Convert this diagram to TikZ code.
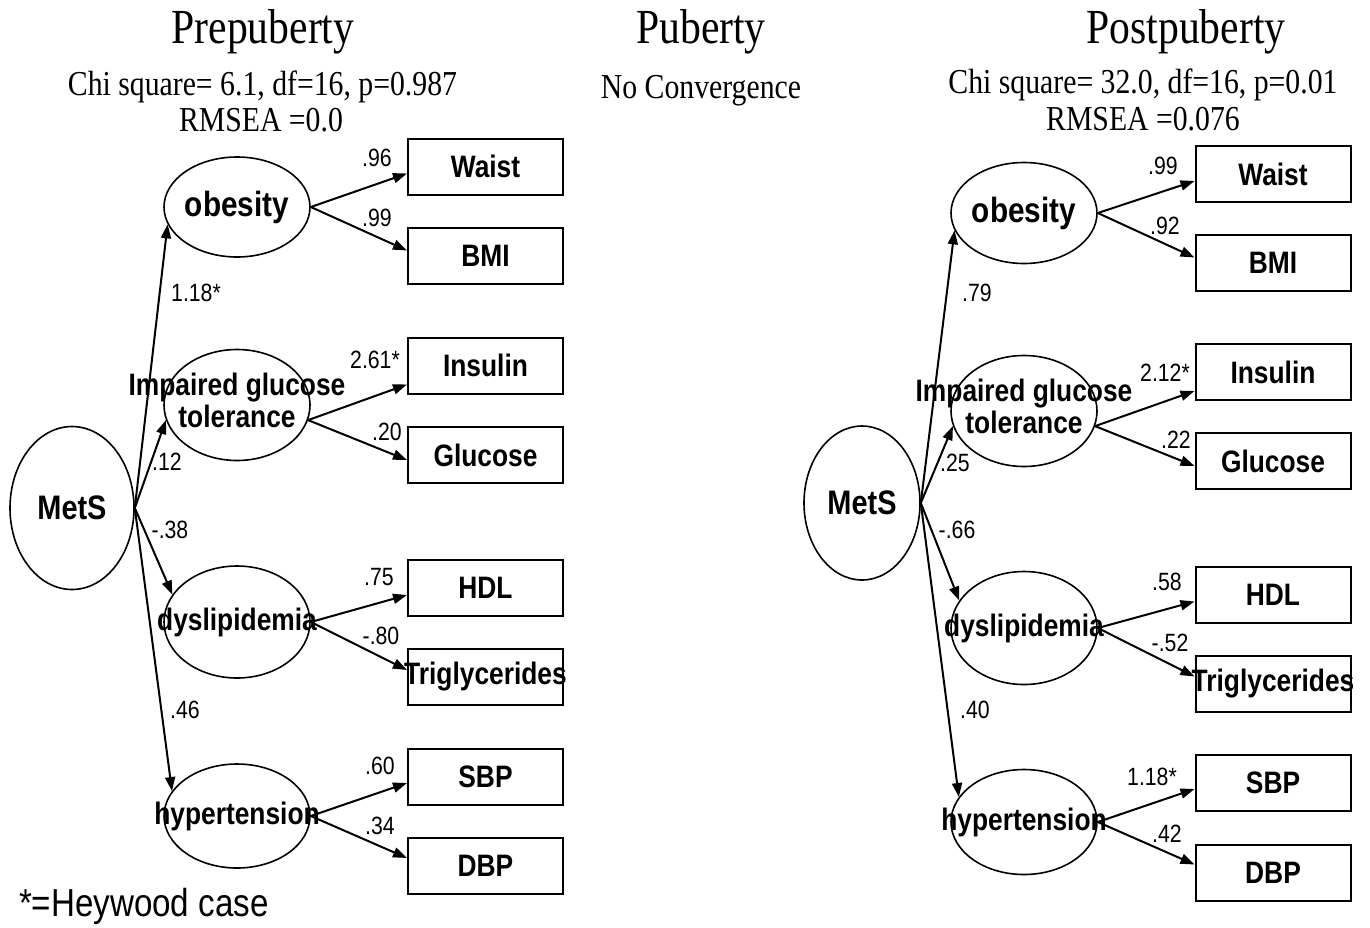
\documentclass[tikz,border=0pt]{standalone}
\usepackage{fontspec}
\setmainfont{Liberation Serif}[FakeStretch=0.85]
\setsansfont{Liberation Sans}[FakeStretch=0.85]
\usetikzlibrary{arrows.meta,shapes.geometric}

\begin{document}
\begin{tikzpicture}[
                    x=0.5pt, y=-0.5pt,
                    latent/.style={
                        ellipse,
                        draw=black,
                        line width=0.8pt,
                        inner sep=0pt,
                        font=\sffamily\bfseries\fontsize{15.5}{16}\selectfont
                    },
                    observed/.style={
                        rectangle,
                        draw=black,
                        line width=1pt,
                        inner sep=0pt,
                        minimum width=77.5pt,
                        minimum height=28pt,
                        font=\sffamily\bfseries\fontsize{15.5}{16}\selectfont
                    },
                    coef/.style={inner sep=0pt, font=\sffamily\fontsize{12.5}{13}\selectfont},
                    heading/.style={inner sep=0pt, font=\fontsize{24.5}{26}\selectfont},
                    fitstat/.style={inner sep=0pt, font=\fontsize{17.5}{19}\selectfont},
                    line width=1pt,
                    ->,
                    >={Triangle[length=7pt,width=5pt]}
                ]
                \newcommand{\mklatent}[5]{
                    \node (#1) [latent, minimum width=#3, minimum height=#4] at #2 {\makebox[0pt]{#5}};
                }
                \newcommand{\mkobserved}[3]{
                    \node (#1) [observed] at #2 {\makebox[0pt]{#3}};
                }
                \path[use as bounding box] (0,0) rectangle (1370,927);

                % headings
                \node (titlePre) [heading] at (263,32) {Prepuberty};
                \node (chiPre) [fitstat] at (262.5,87) {Chi square= 6.1, df=16, p=0.987};
                \node (rmseaPre) [fitstat] at (261,120) {RMSEA =0.0};
                \node (titlePub) [heading] at (701,32) {Puberty};
                \node (chiPub) [fitstat] at (701,91) {No Convergence};
                \node (titlePost) [heading] at (1186,32) {Postpuberty};
                \node (chiPost) [fitstat] at (1143,85) {Chi square= 32.0, df=16, p=0.01};
                \node (rmseaPost) [fitstat] at (1143,119) {RMSEA =0.076};

                % prepuberty
                \mklatent{MetSPre}{(72,508)}{62pt}{81.5pt}{\fontsize{17}{18}\selectfont MetS}
                \mklatent{obesPre}{(237,207)}{73pt}{50pt}{\fontsize{17.5}{18}\selectfont obesity}
                \mklatent{igtPre}{(237,405)}{73pt}{55.5pt}{\begin{tabular}{@{}c@{}}Impaired glucose\\tolerance\end{tabular}}
                \mklatent{dysPre}{(237,622)}{73pt}{56pt}{dyslipidemia}
                \mklatent{hypPre}{(237,816)}{73pt}{52pt}{hypertension}

                \mkobserved{waistPre}{(485.5,166.5)}{Waist}
                \mkobserved{bmiPre}{(485.5,255.5)}{BMI}
                \mkobserved{insPre}{(485.5,365.5)}{Insulin}
                \mkobserved{gluPre}{(485.5,455)}{Glucose}
                \mkobserved{hdlPre}{(485.5,588)}{HDL}
                \mkobserved{trigPre}{(485.5,677)}{Triglycerides}
                \mkobserved{sbpPre}{(485.5,777)}{SBP}
                \mkobserved{dbpPre}{(485.5,866)}{DBP}

                \path
                (MetSPre.east) edge (obesPre.194)
                (MetSPre.east) edge (igtPre.192)
                (MetSPre.east) edge (dysPre.157)
                (MetSPre.east) edge (hypPre.159)

                (obesPre.east) edge ([yshift=-3.5pt]waistPre.west)
                (obesPre.east) edge ([yshift=2.5pt]bmiPre.west)
                (igtPre.348) edge ([yshift=-9.5pt]insPre.west)
                (igtPre.348) edge ([yshift=-2.5pt]gluPre.west)
                (dysPre.east) edge ([yshift=-3.5pt]hdlPre.west)
                (dysPre.east) edge ([yshift=3.5pt]trigPre.west)
                (hypPre.east) edge ([yshift=-3pt]sbpPre.west)
                (hypPre.east) edge ([yshift=4pt]dbpPre.west)
                ;

                \node (cObesPre) [coef] at (196,293) {1.18*};
                \node (cIgtPre) [coef] at (167,462) {.12};
                \node (cDysPre) [coef] at (170,530) {-.38};
                \node (cHypPre) [coef] at (185,710) {.46};
                \node (cWaistPre) [coef] at (377,158) {.96};
                \node (cBmiPre) [coef] at (377,218) {.99};
                \node (cInsPre) [coef] at (375,360) {2.61*};
                \node (cGluPre) [coef] at (387,432) {.20};
                \node (cHdlPre) [coef] at (379,577) {.75};
                \node (cTrigPre) [coef] at (381,636) {-.80};
                \node (cSbpPre) [coef] at (380,766) {.60};
                \node (cDbpPre) [coef] at (380,826) {.34};

                % postpuberty
                \mklatent{MetSPost}{(862,503)}{58pt}{77pt}{\fontsize{17}{18}\selectfont MetS}
                \mklatent{obesPost}{(1024,213)}{73pt}{50.5pt}{\fontsize{17.5}{18}\selectfont obesity}
                \mklatent{igtPost}{(1024,411)}{73pt}{55.5pt}{\begin{tabular}{@{}c@{}}Impaired glucose\\tolerance\end{tabular}}
                \mklatent{dysPost}{(1024,628)}{73pt}{56.5pt}{dyslipidemia}
                \mklatent{hypPost}{(1024,822)}{73pt}{52.5pt}{hypertension}

                \mkobserved{waistPost}{(1273,174)}{Waist}
                \mkobserved{bmiPost}{(1273,262.5)}{BMI}
                \mkobserved{insPost}{(1273,372)}{Insulin}
                \mkobserved{gluPost}{(1273,461)}{Glucose}
                \mkobserved{hdlPost}{(1273,594.5)}{HDL}
                \mkobserved{trigPost}{(1273,683.5)}{Triglycerides}
                \mkobserved{sbpPost}{(1273,783)}{SBP}
                \mkobserved{dbpPost}{(1273,872.5)}{DBP}

                \path
                (MetSPost.east) edge (obesPost.194)
                (MetSPost.east) edge (igtPost.192)
                (MetSPost.east) edge (dysPost.157)
                (MetSPost.east) edge (hypPost.159)

                (obesPost.east) edge ([yshift=-3.5pt]waistPost.west)
                (obesPost.east) edge ([yshift=2.5pt]bmiPost.west)
                (igtPost.348) edge ([yshift=-9.5pt]insPost.west)
                (igtPost.348) edge ([yshift=-2.5pt]gluPost.west)
                (dysPost.east) edge ([yshift=-3.5pt]hdlPost.west)
                (dysPost.east) edge ([yshift=3.5pt]trigPost.west)
                (hypPost.east) edge ([yshift=-3pt]sbpPost.west)
                (hypPost.east) edge ([yshift=4pt]dbpPost.west)
                ;

                \node (cObesPost) [coef] at (977,293) {.79};
                \node (cIgtPost) [coef] at (955,463) {.25};
                \node (cDysPost) [coef] at (957,530) {-.66};
                \node (cHypPost) [coef] at (975,710) {.40};
                \node (cWaistPost) [coef] at (1163,166) {.99};
                \node (cBmiPost) [coef] at (1165,226) {.92};
                \node (cInsPost) [coef] at (1165,373) {2.12*};
                \node (cGluPost) [coef] at (1176,440) {.22};
                \node (cHdlPost) [coef] at (1167,582) {.58};
                \node (cTrigPost) [coef] at (1170,643) {-.52};
                \node (cSbpPost) [coef] at (1152,777) {1.18*};
                \node (cDbpPost) [coef] at (1167,834) {.42};

                \node (heywood) [anchor=west, inner sep=0pt, font=\sffamily\fontsize{19.5}{21}\selectfont] at (18,906) {*=Heywood case};
            \end{tikzpicture}
\end{document}
